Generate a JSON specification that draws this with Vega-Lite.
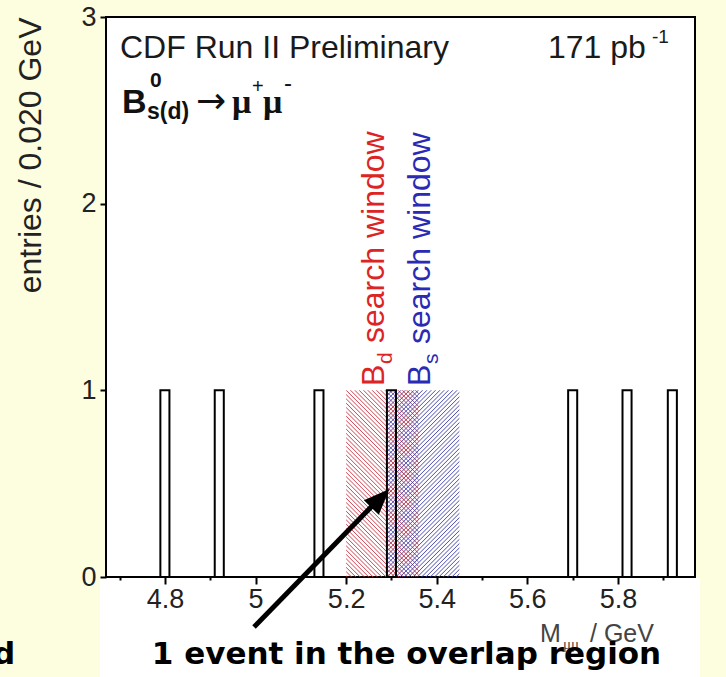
{
  "$schema": "https://vega.github.io/schema/vega-lite/v6.json",
  "width": 589,
  "height": 560,
  "autosize": {"type": "none"},
  "padding": {"left": 106, "top": 17, "right": 31, "bottom": 100},
  "background": "#fdfddf",
  "config": {
    "view": {"stroke": "#000000", "strokeWidth": 2, "fill": "#ffffff"},
    "text": {"font": "Liberation Sans"}
  },
  "encoding": {
    "x": {
      "field": "x",
      "type": "quantitative",
      "scale": {"domain": [4.67, 5.97], "nice": false, "zero": false},
      "axis": {
        "values": [4.7, 4.8, 4.9, 5, 5.1, 5.2, 5.3, 5.4, 5.5, 5.6, 5.7, 5.8, 5.9],
        "title": null,
        "domain": false,
        "grid": false,
        "tickColor": "#000000",
        "tickWidth": 2,
        "tickSize": {"condition": {"test": "round(datum.value*10)%2==0", "value": 7}, "value": 3},
        "labelExpr": "round(datum.value*10)%2==0 ? format(datum.value,'~g') : ''",
        "labelFont": "Liberation Sans",
        "labelFontSize": 27,
        "labelColor": "#222222",
        "labelPadding": 2,
        "labelOverlap": false,
        "labelFlush": false,
        "zindex": 1
      }
    },
    "y": {
      "field": "y",
      "type": "quantitative",
      "scale": {"domain": [0, 3], "nice": false, "zero": false},
      "axis": {
        "values": [0, 1, 2, 3],
        "title": "entries / 0.020 GeV",
        "titleFont": "Liberation Sans",
        "titleFontSize": 32,
        "titleFontWeight": "normal",
        "titleColor": "#222222",
        "titleAnchor": "end",
        "titlePadding": 33,
        "domain": false,
        "grid": false,
        "tickColor": "#000000",
        "tickWidth": 2,
        "tickSize": 6,
        "labelFont": "Liberation Sans",
        "labelFontSize": 27,
        "labelColor": "#222222",
        "labelPadding": 4,
        "zindex": 1
      }
    }
  },
  "layer": [
    {
      "data": {"values": [{"x": 4.6568, "x2": 5.981, "y": -0.006, "y2": -0.5357}]},
      "mark": {"type": "rect", "fill": "#ffffff", "clip": false},
      "encoding": {"x2": {"field": "x2"}, "y2": {"field": "y2"}}
    },
    {
      "data": {"values": [{"window": "Bd", "x": 5.20, "x2": 5.36, "y": 1}]},
      "mark": {
        "type": "rect",
        "opacity": 0.85,
        "fill": {
          "gradient": "linear", "x1": 0, "y1": 1, "x2": 0.4686, "y2": -0.2064,
          "stops": [
            {"offset": 0, "color": "rgba(200,48,63,0)"}, {"offset": 0.00417, "color": "#c8303f"}, {"offset": 0.00833, "color": "rgba(200,48,63,0)"}, {"offset": 0.01667, "color": "rgba(200,48,63,0)"}, {"offset": 0.02083, "color": "#c8303f"}, {"offset": 0.025, "color": "rgba(200,48,63,0)"}, {"offset": 0.03333, "color": "rgba(200,48,63,0)"}, {"offset": 0.0375, "color": "#c8303f"}, {"offset": 0.04167, "color": "rgba(200,48,63,0)"},
            {"offset": 0.05, "color": "rgba(200,48,63,0)"}, {"offset": 0.05417, "color": "#c8303f"}, {"offset": 0.05833, "color": "rgba(200,48,63,0)"}, {"offset": 0.06667, "color": "rgba(200,48,63,0)"}, {"offset": 0.07083, "color": "#c8303f"}, {"offset": 0.075, "color": "rgba(200,48,63,0)"}, {"offset": 0.08333, "color": "rgba(200,48,63,0)"}, {"offset": 0.0875, "color": "#c8303f"}, {"offset": 0.09167, "color": "rgba(200,48,63,0)"},
            {"offset": 0.1, "color": "rgba(200,48,63,0)"}, {"offset": 0.10417, "color": "#c8303f"}, {"offset": 0.10833, "color": "rgba(200,48,63,0)"}, {"offset": 0.11667, "color": "rgba(200,48,63,0)"}, {"offset": 0.12083, "color": "#c8303f"}, {"offset": 0.125, "color": "rgba(200,48,63,0)"}, {"offset": 0.13333, "color": "rgba(200,48,63,0)"}, {"offset": 0.1375, "color": "#c8303f"}, {"offset": 0.14167, "color": "rgba(200,48,63,0)"},
            {"offset": 0.15, "color": "rgba(200,48,63,0)"}, {"offset": 0.15417, "color": "#c8303f"}, {"offset": 0.15833, "color": "rgba(200,48,63,0)"}, {"offset": 0.16667, "color": "rgba(200,48,63,0)"}, {"offset": 0.17083, "color": "#c8303f"}, {"offset": 0.175, "color": "rgba(200,48,63,0)"}, {"offset": 0.18333, "color": "rgba(200,48,63,0)"}, {"offset": 0.1875, "color": "#c8303f"}, {"offset": 0.19167, "color": "rgba(200,48,63,0)"},
            {"offset": 0.2, "color": "rgba(200,48,63,0)"}, {"offset": 0.20417, "color": "#c8303f"}, {"offset": 0.20833, "color": "rgba(200,48,63,0)"}, {"offset": 0.21667, "color": "rgba(200,48,63,0)"}, {"offset": 0.22083, "color": "#c8303f"}, {"offset": 0.225, "color": "rgba(200,48,63,0)"}, {"offset": 0.23333, "color": "rgba(200,48,63,0)"}, {"offset": 0.2375, "color": "#c8303f"}, {"offset": 0.24167, "color": "rgba(200,48,63,0)"},
            {"offset": 0.25, "color": "rgba(200,48,63,0)"}, {"offset": 0.25417, "color": "#c8303f"}, {"offset": 0.25833, "color": "rgba(200,48,63,0)"}, {"offset": 0.26667, "color": "rgba(200,48,63,0)"}, {"offset": 0.27083, "color": "#c8303f"}, {"offset": 0.275, "color": "rgba(200,48,63,0)"}, {"offset": 0.28333, "color": "rgba(200,48,63,0)"}, {"offset": 0.2875, "color": "#c8303f"}, {"offset": 0.29167, "color": "rgba(200,48,63,0)"},
            {"offset": 0.3, "color": "rgba(200,48,63,0)"}, {"offset": 0.30417, "color": "#c8303f"}, {"offset": 0.30833, "color": "rgba(200,48,63,0)"}, {"offset": 0.31667, "color": "rgba(200,48,63,0)"}, {"offset": 0.32083, "color": "#c8303f"}, {"offset": 0.325, "color": "rgba(200,48,63,0)"}, {"offset": 0.33333, "color": "rgba(200,48,63,0)"}, {"offset": 0.3375, "color": "#c8303f"}, {"offset": 0.34167, "color": "rgba(200,48,63,0)"},
            {"offset": 0.35, "color": "rgba(200,48,63,0)"}, {"offset": 0.35417, "color": "#c8303f"}, {"offset": 0.35833, "color": "rgba(200,48,63,0)"}, {"offset": 0.36667, "color": "rgba(200,48,63,0)"}, {"offset": 0.37083, "color": "#c8303f"}, {"offset": 0.375, "color": "rgba(200,48,63,0)"}, {"offset": 0.38333, "color": "rgba(200,48,63,0)"}, {"offset": 0.3875, "color": "#c8303f"}, {"offset": 0.39167, "color": "rgba(200,48,63,0)"},
            {"offset": 0.4, "color": "rgba(200,48,63,0)"}, {"offset": 0.40417, "color": "#c8303f"}, {"offset": 0.40833, "color": "rgba(200,48,63,0)"}, {"offset": 0.41667, "color": "rgba(200,48,63,0)"}, {"offset": 0.42083, "color": "#c8303f"}, {"offset": 0.425, "color": "rgba(200,48,63,0)"}, {"offset": 0.43333, "color": "rgba(200,48,63,0)"}, {"offset": 0.4375, "color": "#c8303f"}, {"offset": 0.44167, "color": "rgba(200,48,63,0)"},
            {"offset": 0.45, "color": "rgba(200,48,63,0)"}, {"offset": 0.45417, "color": "#c8303f"}, {"offset": 0.45833, "color": "rgba(200,48,63,0)"}, {"offset": 0.46667, "color": "rgba(200,48,63,0)"}, {"offset": 0.47083, "color": "#c8303f"}, {"offset": 0.475, "color": "rgba(200,48,63,0)"}, {"offset": 0.48333, "color": "rgba(200,48,63,0)"}, {"offset": 0.4875, "color": "#c8303f"}, {"offset": 0.49167, "color": "rgba(200,48,63,0)"},
            {"offset": 0.5, "color": "rgba(200,48,63,0)"}, {"offset": 0.50417, "color": "#c8303f"}, {"offset": 0.50833, "color": "rgba(200,48,63,0)"}, {"offset": 0.51667, "color": "rgba(200,48,63,0)"}, {"offset": 0.52083, "color": "#c8303f"}, {"offset": 0.525, "color": "rgba(200,48,63,0)"}, {"offset": 0.53333, "color": "rgba(200,48,63,0)"}, {"offset": 0.5375, "color": "#c8303f"}, {"offset": 0.54167, "color": "rgba(200,48,63,0)"},
            {"offset": 0.55, "color": "rgba(200,48,63,0)"}, {"offset": 0.55417, "color": "#c8303f"}, {"offset": 0.55833, "color": "rgba(200,48,63,0)"}, {"offset": 0.56667, "color": "rgba(200,48,63,0)"}, {"offset": 0.57083, "color": "#c8303f"}, {"offset": 0.575, "color": "rgba(200,48,63,0)"}, {"offset": 0.58333, "color": "rgba(200,48,63,0)"}, {"offset": 0.5875, "color": "#c8303f"}, {"offset": 0.59167, "color": "rgba(200,48,63,0)"},
            {"offset": 0.6, "color": "rgba(200,48,63,0)"}, {"offset": 0.60417, "color": "#c8303f"}, {"offset": 0.60833, "color": "rgba(200,48,63,0)"}, {"offset": 0.61667, "color": "rgba(200,48,63,0)"}, {"offset": 0.62083, "color": "#c8303f"}, {"offset": 0.625, "color": "rgba(200,48,63,0)"}, {"offset": 0.63333, "color": "rgba(200,48,63,0)"}, {"offset": 0.6375, "color": "#c8303f"}, {"offset": 0.64167, "color": "rgba(200,48,63,0)"},
            {"offset": 0.65, "color": "rgba(200,48,63,0)"}, {"offset": 0.65417, "color": "#c8303f"}, {"offset": 0.65833, "color": "rgba(200,48,63,0)"}, {"offset": 0.66667, "color": "rgba(200,48,63,0)"}, {"offset": 0.67083, "color": "#c8303f"}, {"offset": 0.675, "color": "rgba(200,48,63,0)"}, {"offset": 0.68333, "color": "rgba(200,48,63,0)"}, {"offset": 0.6875, "color": "#c8303f"}, {"offset": 0.69167, "color": "rgba(200,48,63,0)"},
            {"offset": 0.7, "color": "rgba(200,48,63,0)"}, {"offset": 0.70417, "color": "#c8303f"}, {"offset": 0.70833, "color": "rgba(200,48,63,0)"}, {"offset": 0.71667, "color": "rgba(200,48,63,0)"}, {"offset": 0.72083, "color": "#c8303f"}, {"offset": 0.725, "color": "rgba(200,48,63,0)"}, {"offset": 0.73333, "color": "rgba(200,48,63,0)"}, {"offset": 0.7375, "color": "#c8303f"}, {"offset": 0.74167, "color": "rgba(200,48,63,0)"},
            {"offset": 0.75, "color": "rgba(200,48,63,0)"}, {"offset": 0.75417, "color": "#c8303f"}, {"offset": 0.75833, "color": "rgba(200,48,63,0)"}, {"offset": 0.76667, "color": "rgba(200,48,63,0)"}, {"offset": 0.77083, "color": "#c8303f"}, {"offset": 0.775, "color": "rgba(200,48,63,0)"}, {"offset": 0.78333, "color": "rgba(200,48,63,0)"}, {"offset": 0.7875, "color": "#c8303f"}, {"offset": 0.79167, "color": "rgba(200,48,63,0)"},
            {"offset": 0.8, "color": "rgba(200,48,63,0)"}, {"offset": 0.80417, "color": "#c8303f"}, {"offset": 0.80833, "color": "rgba(200,48,63,0)"}, {"offset": 0.81667, "color": "rgba(200,48,63,0)"}, {"offset": 0.82083, "color": "#c8303f"}, {"offset": 0.825, "color": "rgba(200,48,63,0)"}, {"offset": 0.83333, "color": "rgba(200,48,63,0)"}, {"offset": 0.8375, "color": "#c8303f"}, {"offset": 0.84167, "color": "rgba(200,48,63,0)"},
            {"offset": 0.85, "color": "rgba(200,48,63,0)"}, {"offset": 0.85417, "color": "#c8303f"}, {"offset": 0.85833, "color": "rgba(200,48,63,0)"}, {"offset": 0.86667, "color": "rgba(200,48,63,0)"}, {"offset": 0.87083, "color": "#c8303f"}, {"offset": 0.875, "color": "rgba(200,48,63,0)"}, {"offset": 0.88333, "color": "rgba(200,48,63,0)"}, {"offset": 0.8875, "color": "#c8303f"}, {"offset": 0.89167, "color": "rgba(200,48,63,0)"},
            {"offset": 0.9, "color": "rgba(200,48,63,0)"}, {"offset": 0.90417, "color": "#c8303f"}, {"offset": 0.90833, "color": "rgba(200,48,63,0)"}, {"offset": 0.91667, "color": "rgba(200,48,63,0)"}, {"offset": 0.92083, "color": "#c8303f"}, {"offset": 0.925, "color": "rgba(200,48,63,0)"}, {"offset": 0.93333, "color": "rgba(200,48,63,0)"}, {"offset": 0.9375, "color": "#c8303f"}, {"offset": 0.94167, "color": "rgba(200,48,63,0)"},
            {"offset": 0.95, "color": "rgba(200,48,63,0)"}, {"offset": 0.95417, "color": "#c8303f"}, {"offset": 0.95833, "color": "rgba(200,48,63,0)"}, {"offset": 0.96667, "color": "rgba(200,48,63,0)"}, {"offset": 0.97083, "color": "#c8303f"}, {"offset": 0.975, "color": "rgba(200,48,63,0)"}, {"offset": 0.98333, "color": "rgba(200,48,63,0)"}, {"offset": 0.9875, "color": "#c8303f"}, {"offset": 0.99167, "color": "rgba(200,48,63,0)"},
            {"offset": 1, "color": "rgba(200,48,63,0)"}
          ]
        }
      },
      "encoding": {"x2": {"field": "x2"}, "y2": {"datum": 0}}
    },
    {
      "data": {"values": [{"window": "Bs", "x": 5.29, "x2": 5.45, "y": 1}]},
      "mark": {
        "type": "rect",
        "opacity": 0.85,
        "fill": {
          "gradient": "linear", "x1": 0, "y1": 0, "x2": 0.4686, "y2": 1.2064,
          "stops": [
            {"offset": 0, "color": "rgba(58,58,168,0)"}, {"offset": 0.00417, "color": "#3a3aa8"}, {"offset": 0.00833, "color": "rgba(58,58,168,0)"}, {"offset": 0.01667, "color": "rgba(58,58,168,0)"}, {"offset": 0.02083, "color": "#3a3aa8"}, {"offset": 0.025, "color": "rgba(58,58,168,0)"}, {"offset": 0.03333, "color": "rgba(58,58,168,0)"}, {"offset": 0.0375, "color": "#3a3aa8"}, {"offset": 0.04167, "color": "rgba(58,58,168,0)"},
            {"offset": 0.05, "color": "rgba(58,58,168,0)"}, {"offset": 0.05417, "color": "#3a3aa8"}, {"offset": 0.05833, "color": "rgba(58,58,168,0)"}, {"offset": 0.06667, "color": "rgba(58,58,168,0)"}, {"offset": 0.07083, "color": "#3a3aa8"}, {"offset": 0.075, "color": "rgba(58,58,168,0)"}, {"offset": 0.08333, "color": "rgba(58,58,168,0)"}, {"offset": 0.0875, "color": "#3a3aa8"}, {"offset": 0.09167, "color": "rgba(58,58,168,0)"},
            {"offset": 0.1, "color": "rgba(58,58,168,0)"}, {"offset": 0.10417, "color": "#3a3aa8"}, {"offset": 0.10833, "color": "rgba(58,58,168,0)"}, {"offset": 0.11667, "color": "rgba(58,58,168,0)"}, {"offset": 0.12083, "color": "#3a3aa8"}, {"offset": 0.125, "color": "rgba(58,58,168,0)"}, {"offset": 0.13333, "color": "rgba(58,58,168,0)"}, {"offset": 0.1375, "color": "#3a3aa8"}, {"offset": 0.14167, "color": "rgba(58,58,168,0)"},
            {"offset": 0.15, "color": "rgba(58,58,168,0)"}, {"offset": 0.15417, "color": "#3a3aa8"}, {"offset": 0.15833, "color": "rgba(58,58,168,0)"}, {"offset": 0.16667, "color": "rgba(58,58,168,0)"}, {"offset": 0.17083, "color": "#3a3aa8"}, {"offset": 0.175, "color": "rgba(58,58,168,0)"}, {"offset": 0.18333, "color": "rgba(58,58,168,0)"}, {"offset": 0.1875, "color": "#3a3aa8"}, {"offset": 0.19167, "color": "rgba(58,58,168,0)"},
            {"offset": 0.2, "color": "rgba(58,58,168,0)"}, {"offset": 0.20417, "color": "#3a3aa8"}, {"offset": 0.20833, "color": "rgba(58,58,168,0)"}, {"offset": 0.21667, "color": "rgba(58,58,168,0)"}, {"offset": 0.22083, "color": "#3a3aa8"}, {"offset": 0.225, "color": "rgba(58,58,168,0)"}, {"offset": 0.23333, "color": "rgba(58,58,168,0)"}, {"offset": 0.2375, "color": "#3a3aa8"}, {"offset": 0.24167, "color": "rgba(58,58,168,0)"},
            {"offset": 0.25, "color": "rgba(58,58,168,0)"}, {"offset": 0.25417, "color": "#3a3aa8"}, {"offset": 0.25833, "color": "rgba(58,58,168,0)"}, {"offset": 0.26667, "color": "rgba(58,58,168,0)"}, {"offset": 0.27083, "color": "#3a3aa8"}, {"offset": 0.275, "color": "rgba(58,58,168,0)"}, {"offset": 0.28333, "color": "rgba(58,58,168,0)"}, {"offset": 0.2875, "color": "#3a3aa8"}, {"offset": 0.29167, "color": "rgba(58,58,168,0)"},
            {"offset": 0.3, "color": "rgba(58,58,168,0)"}, {"offset": 0.30417, "color": "#3a3aa8"}, {"offset": 0.30833, "color": "rgba(58,58,168,0)"}, {"offset": 0.31667, "color": "rgba(58,58,168,0)"}, {"offset": 0.32083, "color": "#3a3aa8"}, {"offset": 0.325, "color": "rgba(58,58,168,0)"}, {"offset": 0.33333, "color": "rgba(58,58,168,0)"}, {"offset": 0.3375, "color": "#3a3aa8"}, {"offset": 0.34167, "color": "rgba(58,58,168,0)"},
            {"offset": 0.35, "color": "rgba(58,58,168,0)"}, {"offset": 0.35417, "color": "#3a3aa8"}, {"offset": 0.35833, "color": "rgba(58,58,168,0)"}, {"offset": 0.36667, "color": "rgba(58,58,168,0)"}, {"offset": 0.37083, "color": "#3a3aa8"}, {"offset": 0.375, "color": "rgba(58,58,168,0)"}, {"offset": 0.38333, "color": "rgba(58,58,168,0)"}, {"offset": 0.3875, "color": "#3a3aa8"}, {"offset": 0.39167, "color": "rgba(58,58,168,0)"},
            {"offset": 0.4, "color": "rgba(58,58,168,0)"}, {"offset": 0.40417, "color": "#3a3aa8"}, {"offset": 0.40833, "color": "rgba(58,58,168,0)"}, {"offset": 0.41667, "color": "rgba(58,58,168,0)"}, {"offset": 0.42083, "color": "#3a3aa8"}, {"offset": 0.425, "color": "rgba(58,58,168,0)"}, {"offset": 0.43333, "color": "rgba(58,58,168,0)"}, {"offset": 0.4375, "color": "#3a3aa8"}, {"offset": 0.44167, "color": "rgba(58,58,168,0)"},
            {"offset": 0.45, "color": "rgba(58,58,168,0)"}, {"offset": 0.45417, "color": "#3a3aa8"}, {"offset": 0.45833, "color": "rgba(58,58,168,0)"}, {"offset": 0.46667, "color": "rgba(58,58,168,0)"}, {"offset": 0.47083, "color": "#3a3aa8"}, {"offset": 0.475, "color": "rgba(58,58,168,0)"}, {"offset": 0.48333, "color": "rgba(58,58,168,0)"}, {"offset": 0.4875, "color": "#3a3aa8"}, {"offset": 0.49167, "color": "rgba(58,58,168,0)"},
            {"offset": 0.5, "color": "rgba(58,58,168,0)"}, {"offset": 0.50417, "color": "#3a3aa8"}, {"offset": 0.50833, "color": "rgba(58,58,168,0)"}, {"offset": 0.51667, "color": "rgba(58,58,168,0)"}, {"offset": 0.52083, "color": "#3a3aa8"}, {"offset": 0.525, "color": "rgba(58,58,168,0)"}, {"offset": 0.53333, "color": "rgba(58,58,168,0)"}, {"offset": 0.5375, "color": "#3a3aa8"}, {"offset": 0.54167, "color": "rgba(58,58,168,0)"},
            {"offset": 0.55, "color": "rgba(58,58,168,0)"}, {"offset": 0.55417, "color": "#3a3aa8"}, {"offset": 0.55833, "color": "rgba(58,58,168,0)"}, {"offset": 0.56667, "color": "rgba(58,58,168,0)"}, {"offset": 0.57083, "color": "#3a3aa8"}, {"offset": 0.575, "color": "rgba(58,58,168,0)"}, {"offset": 0.58333, "color": "rgba(58,58,168,0)"}, {"offset": 0.5875, "color": "#3a3aa8"}, {"offset": 0.59167, "color": "rgba(58,58,168,0)"},
            {"offset": 0.6, "color": "rgba(58,58,168,0)"}, {"offset": 0.60417, "color": "#3a3aa8"}, {"offset": 0.60833, "color": "rgba(58,58,168,0)"}, {"offset": 0.61667, "color": "rgba(58,58,168,0)"}, {"offset": 0.62083, "color": "#3a3aa8"}, {"offset": 0.625, "color": "rgba(58,58,168,0)"}, {"offset": 0.63333, "color": "rgba(58,58,168,0)"}, {"offset": 0.6375, "color": "#3a3aa8"}, {"offset": 0.64167, "color": "rgba(58,58,168,0)"},
            {"offset": 0.65, "color": "rgba(58,58,168,0)"}, {"offset": 0.65417, "color": "#3a3aa8"}, {"offset": 0.65833, "color": "rgba(58,58,168,0)"}, {"offset": 0.66667, "color": "rgba(58,58,168,0)"}, {"offset": 0.67083, "color": "#3a3aa8"}, {"offset": 0.675, "color": "rgba(58,58,168,0)"}, {"offset": 0.68333, "color": "rgba(58,58,168,0)"}, {"offset": 0.6875, "color": "#3a3aa8"}, {"offset": 0.69167, "color": "rgba(58,58,168,0)"},
            {"offset": 0.7, "color": "rgba(58,58,168,0)"}, {"offset": 0.70417, "color": "#3a3aa8"}, {"offset": 0.70833, "color": "rgba(58,58,168,0)"}, {"offset": 0.71667, "color": "rgba(58,58,168,0)"}, {"offset": 0.72083, "color": "#3a3aa8"}, {"offset": 0.725, "color": "rgba(58,58,168,0)"}, {"offset": 0.73333, "color": "rgba(58,58,168,0)"}, {"offset": 0.7375, "color": "#3a3aa8"}, {"offset": 0.74167, "color": "rgba(58,58,168,0)"},
            {"offset": 0.75, "color": "rgba(58,58,168,0)"}, {"offset": 0.75417, "color": "#3a3aa8"}, {"offset": 0.75833, "color": "rgba(58,58,168,0)"}, {"offset": 0.76667, "color": "rgba(58,58,168,0)"}, {"offset": 0.77083, "color": "#3a3aa8"}, {"offset": 0.775, "color": "rgba(58,58,168,0)"}, {"offset": 0.78333, "color": "rgba(58,58,168,0)"}, {"offset": 0.7875, "color": "#3a3aa8"}, {"offset": 0.79167, "color": "rgba(58,58,168,0)"},
            {"offset": 0.8, "color": "rgba(58,58,168,0)"}, {"offset": 0.80417, "color": "#3a3aa8"}, {"offset": 0.80833, "color": "rgba(58,58,168,0)"}, {"offset": 0.81667, "color": "rgba(58,58,168,0)"}, {"offset": 0.82083, "color": "#3a3aa8"}, {"offset": 0.825, "color": "rgba(58,58,168,0)"}, {"offset": 0.83333, "color": "rgba(58,58,168,0)"}, {"offset": 0.8375, "color": "#3a3aa8"}, {"offset": 0.84167, "color": "rgba(58,58,168,0)"},
            {"offset": 0.85, "color": "rgba(58,58,168,0)"}, {"offset": 0.85417, "color": "#3a3aa8"}, {"offset": 0.85833, "color": "rgba(58,58,168,0)"}, {"offset": 0.86667, "color": "rgba(58,58,168,0)"}, {"offset": 0.87083, "color": "#3a3aa8"}, {"offset": 0.875, "color": "rgba(58,58,168,0)"}, {"offset": 0.88333, "color": "rgba(58,58,168,0)"}, {"offset": 0.8875, "color": "#3a3aa8"}, {"offset": 0.89167, "color": "rgba(58,58,168,0)"},
            {"offset": 0.9, "color": "rgba(58,58,168,0)"}, {"offset": 0.90417, "color": "#3a3aa8"}, {"offset": 0.90833, "color": "rgba(58,58,168,0)"}, {"offset": 0.91667, "color": "rgba(58,58,168,0)"}, {"offset": 0.92083, "color": "#3a3aa8"}, {"offset": 0.925, "color": "rgba(58,58,168,0)"}, {"offset": 0.93333, "color": "rgba(58,58,168,0)"}, {"offset": 0.9375, "color": "#3a3aa8"}, {"offset": 0.94167, "color": "rgba(58,58,168,0)"},
            {"offset": 0.95, "color": "rgba(58,58,168,0)"}, {"offset": 0.95417, "color": "#3a3aa8"}, {"offset": 0.95833, "color": "rgba(58,58,168,0)"}, {"offset": 0.96667, "color": "rgba(58,58,168,0)"}, {"offset": 0.97083, "color": "#3a3aa8"}, {"offset": 0.975, "color": "rgba(58,58,168,0)"}, {"offset": 0.98333, "color": "rgba(58,58,168,0)"}, {"offset": 0.9875, "color": "#3a3aa8"}, {"offset": 0.99167, "color": "rgba(58,58,168,0)"},
            {"offset": 1, "color": "rgba(58,58,168,0)"}
          ]
        }
      },
      "encoding": {"x2": {"field": "x2"}, "y2": {"datum": 0}}
    },
    {
      "data": {"values": [
        {"x": 4.79, "x2": 4.81, "y": 1},
        {"x": 4.91, "x2": 4.93, "y": 1},
        {"x": 5.13, "x2": 5.15, "y": 1},
        {"x": 5.29, "x2": 5.31, "y": 1},
        {"x": 5.69, "x2": 5.71, "y": 1},
        {"x": 5.81, "x2": 5.83, "y": 1},
        {"x": 5.91, "x2": 5.93, "y": 1}
      ]},
      "mark": {"type": "rect", "fill": "transparent", "stroke": "#000000", "strokeWidth": 2},
      "encoding": {"x2": {"field": "x2"}, "y2": {"datum": 0}}
    },
    {
      "data": {"values": [{"x": 5.2836, "y": 1.0232, "t": "B"}]},
      "mark": {"type": "text", "angle": 270, "align": "left", "baseline": "alphabetic", "fontSize": 32, "color": "#dd2424", "clip": false},
      "encoding": {"text": {"field": "t"}}
    },
    {
      "data": {"values": [{"x": 5.2836, "y": 1.0232, "t": "d"}]},
      "mark": {"type": "text", "angle": 270, "align": "left", "baseline": "alphabetic", "fontSize": 21, "dx": 22, "dy": 8, "color": "#dd2424", "clip": false},
      "encoding": {"text": {"field": "t"}}
    },
    {
      "data": {"values": [{"x": 5.2836, "y": 1.0232, "t": "search window"}]},
      "mark": {"type": "text", "angle": 270, "align": "left", "baseline": "alphabetic", "fontSize": 32, "dx": 43, "color": "#dd2424", "clip": false},
      "encoding": {"text": {"field": "t"}}
    },
    {
      "data": {"values": [{"x": 5.3851, "y": 1.0232, "t": "B"}]},
      "mark": {"type": "text", "angle": 270, "align": "left", "baseline": "alphabetic", "fontSize": 32, "color": "#2a2ab4", "clip": false},
      "encoding": {"text": {"field": "t"}}
    },
    {
      "data": {"values": [{"x": 5.3851, "y": 1.0232, "t": "s"}]},
      "mark": {"type": "text", "angle": 270, "align": "left", "baseline": "alphabetic", "fontSize": 21, "dx": 22, "dy": 8, "color": "#2a2ab4", "clip": false},
      "encoding": {"text": {"field": "t"}}
    },
    {
      "data": {"values": [{"x": 5.3851, "y": 1.0232, "t": "search window"}]},
      "mark": {"type": "text", "angle": 270, "align": "left", "baseline": "alphabetic", "fontSize": 32, "dx": 42, "color": "#2a2ab4", "clip": false},
      "encoding": {"text": {"field": "t"}}
    },
    {
      "data": {"values": [{"x": 4.7009, "y": 2.7803, "t": "CDF Run II Preliminary"}]},
      "mark": {"type": "text", "align": "left", "baseline": "alphabetic", "fontSize": 32, "color": "#1a1a1a"},
      "encoding": {"text": {"field": "t"}}
    },
    {
      "data": {"values": [{"x": 5.6455, "y": 2.7803, "t": "171 pb"}]},
      "mark": {"type": "text", "align": "left", "baseline": "alphabetic", "fontSize": 32, "color": "#1a1a1a"},
      "encoding": {"text": {"field": "t"}}
    },
    {
      "data": {"values": [{"x": 5.6455, "y": 2.7803, "t": "-1"}]},
      "mark": {"type": "text", "align": "left", "baseline": "alphabetic", "fontSize": 19, "dx": 104, "dy": -15, "color": "#1a1a1a"},
      "encoding": {"text": {"field": "t"}}
    },
    {
      "data": {"values": [{"x": 4.7053, "y": 2.4857, "t": "B"}]},
      "mark": {"type": "text", "align": "left", "baseline": "alphabetic", "fontSize": 34, "fontWeight": "bold", "color": "#111111"},
      "encoding": {"text": {"field": "t"}}
    },
    {
      "data": {"values": [{"x": 4.7053, "y": 2.4857, "t": "0"}]},
      "mark": {"type": "text", "align": "left", "baseline": "alphabetic", "fontSize": 21, "fontWeight": "bold", "dx": 28, "dy": -26, "color": "#111111"},
      "encoding": {"text": {"field": "t"}}
    },
    {
      "data": {"values": [{"x": 4.7053, "y": 2.4857, "t": "s(d)"}]},
      "mark": {"type": "text", "align": "left", "baseline": "alphabetic", "fontSize": 23, "fontWeight": "bold", "dx": 25, "dy": 6, "color": "#111111"},
      "encoding": {"text": {"field": "t"}}
    },
    {
      "data": {"values": [{"x": 4.7053, "y": 2.4857, "t": "→"}]},
      "mark": {"type": "text", "align": "left", "baseline": "alphabetic", "font": "DejaVu Sans", "fontSize": 36, "dx": 74, "dy": 0, "color": "#111111"},
      "encoding": {"text": {"field": "t"}}
    },
    {
      "data": {"values": [{"x": 4.7053, "y": 2.4857, "t": "μ"}]},
      "mark": {"type": "text", "align": "left", "baseline": "alphabetic", "font": "Liberation Serif", "fontWeight": "bold", "fontSize": 34, "dx": 110, "color": "#111111"},
      "encoding": {"text": {"field": "t"}}
    },
    {
      "data": {"values": [{"x": 4.7053, "y": 2.4857, "t": "+"}]},
      "mark": {"type": "text", "align": "left", "baseline": "alphabetic", "fontSize": 20, "dx": 130, "dy": -20, "color": "#111111"},
      "encoding": {"text": {"field": "t"}}
    },
    {
      "data": {"values": [{"x": 4.7053, "y": 2.4857, "t": "μ"}]},
      "mark": {"type": "text", "align": "left", "baseline": "alphabetic", "font": "Liberation Serif", "fontWeight": "bold", "fontSize": 34, "dx": 141, "color": "#111111"},
      "encoding": {"text": {"field": "t"}}
    },
    {
      "data": {"values": [{"x": 4.7053, "y": 2.4857, "t": "-"}]},
      "mark": {"type": "text", "align": "left", "baseline": "alphabetic", "fontSize": 24, "dx": 162, "dy": -22, "color": "#111111"},
      "encoding": {"text": {"field": "t"}}
    },
    {
      "data": {"values": [{"x": 5.6279, "y": -0.3482, "t": "M"}]},
      "mark": {"type": "text", "align": "left", "baseline": "alphabetic", "fontSize": 25, "color": "#444444", "clip": false},
      "encoding": {"text": {"field": "t"}}
    },
    {
      "data": {"values": [{"x": 5.6279, "y": -0.3482, "t": "μμ"}]},
      "mark": {"type": "text", "align": "left", "baseline": "alphabetic", "font": "Liberation Serif", "fontSize": 15, "dx": 23, "dy": 7, "color": "#444444", "clip": false},
      "encoding": {"text": {"field": "t"}}
    },
    {
      "data": {"values": [{"x": 5.6279, "y": -0.3482, "t": "/ GeV"}]},
      "mark": {"type": "text", "align": "left", "baseline": "alphabetic", "fontSize": 25, "dx": 50, "color": "#444444", "clip": false},
      "encoding": {"text": {"field": "t"}}
    },
    {
      "data": {"values": [{"x": 4.9967, "y": -0.2679, "x2": 5.2637, "y2": 0.3964}]},
      "mark": {"type": "rule", "color": "#000000", "strokeWidth": 5, "strokeCap": "butt", "clip": false},
      "encoding": {"x2": {"field": "x2"}, "y2": {"field": "y2"}}
    },
    {
      "data": {"values": [{"x": 5.2757, "y": 0.4216}]},
      "mark": {"type": "point", "shape": "M0,-1L0.8,1L-0.8,1Z", "size": 676, "angle": 44.4, "filled": true, "color": "#000000", "opacity": 1, "strokeWidth": 0},
      "encoding": {}
    },
    {
      "data": {"values": [{"x": 5.3332, "y": -0.4661, "t": "1 event in the overlap region"}]},
      "mark": {"type": "text", "align": "center", "baseline": "alphabetic", "font": "DejaVu Sans", "fontWeight": "bold", "fontSize": 31, "color": "#000000", "clip": false},
      "encoding": {"text": {"field": "t"}}
    },
    {
      "data": {"values": [{"x": 4.4206, "y": -0.4661, "t": "d"}]},
      "mark": {"type": "text", "align": "left", "baseline": "alphabetic", "font": "DejaVu Sans", "fontWeight": "bold", "fontSize": 31, "color": "#000000", "clip": false},
      "encoding": {"text": {"field": "t"}}
    }
  ]
}
